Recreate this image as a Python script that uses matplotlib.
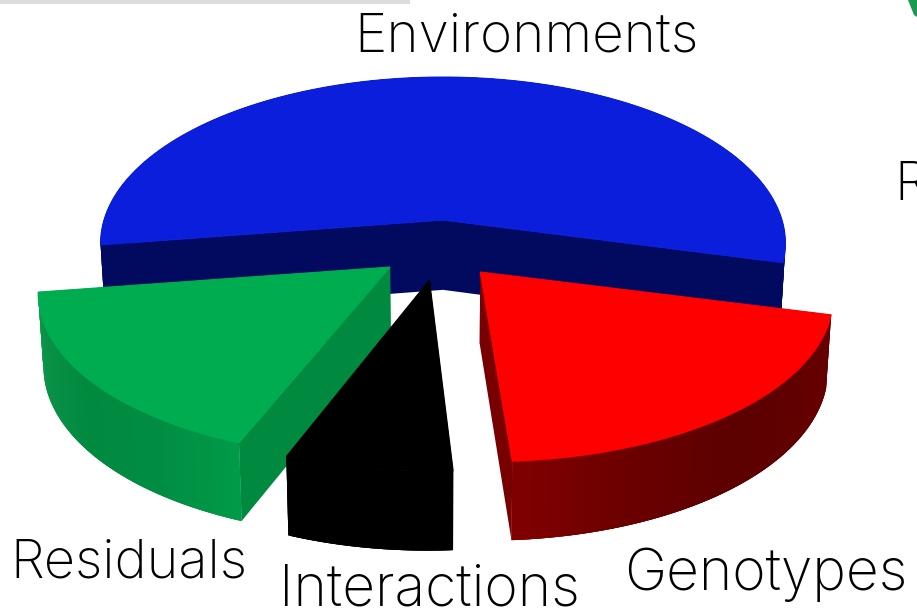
import numpy as np
import matplotlib
matplotlib.use("Agg")
import matplotlib.pyplot as plt
from matplotlib.patches import Polygon, Rectangle

# Share of variance per source, in percent
sources = ["Environments", "Genotypes", "Interactions", "Residuals"]
shares = [56.45, 19.9, 6.9, 16.75]

# Slice appearance and layout, in the same order as the sources
top_colors = ["#0A1EDC", "#FF0000", "#000000", "#00AC50"]
cut_colors = ["#020A60", "#780000", "#000000", "#008A40"]
wall_stops = [["#020A60", "#020A60"],
              ["#660000", "#620000", "#5C0000", "#6A0000", "#800000"],
              ["#000000", "#000000"],
              ["#009A48", "#008C42", "#008A40", "#089046", "#0A9A48"]]
explode = [(0.0, 0.0), (0.105, 0.305), (-0.038, 0.35), (-0.15, 0.277)]
radius_x = [1.0, 0.985, 0.96, 0.985]
radius_z = [1.0, 0.92, 0.915, 0.93]
draw_order = [0, 3, 1, 2]
start_angle = 171.4
label_pos = [(354, 51), (624, 590), (279, 605), (10, 577)]
label_size = [39.5, 41, 41, 39]

# Camera: pie lies in a plane seen in perspective, angles run clockwise on screen
CX, APEX_Y = 443.0, 220.0
S0, H, D, T, CONV = 339.0, 3.407, 7.08, 0.206, 0.013
Y_HORIZON = APEX_Y - S0 * H
N_STRIPS = 120


def project(x, z, level):
    s = S0 / (1.0 - z / D)
    rise = S0 * T * (s / S0) ** 0.65
    return CX + s * x * (1.0 - CONV * level), Y_HORIZON + s * H + rise * level


def hex_ramp(stops, n):
    rgb = np.array([matplotlib.colors.to_rgb(c) for c in stops])
    u = np.linspace(0, len(stops) - 1, n)
    return [tuple(np.interp(v, range(len(stops)), rgb[:, i]) for i in range(3)) for v in u]


fig = plt.figure(figsize=(9.17, 6.09), dpi=100)
ax = fig.add_axes([0, 0, 1, 1])
ax.set_xlim(0, 917)
ax.set_ylim(609, 0)
ax.axis("off")

spans = np.array(shares) / sum(shares) * 360.0
starts = start_angle + np.concatenate([[0], np.cumsum(spans)[:-1]])

for i in draw_order:
    a0 = np.radians(starts[i])
    a1 = np.radians(starts[i] + spans[i])
    ox, oz = explode[i]
    th = np.linspace(a0, a1, N_STRIPS + 1)
    rim_x = ox + radius_x[i] * np.cos(th)
    rim_z = oz + radius_z[i] * np.sin(th)

    faces = []
    # Flat faces on both cut edges
    for xe, ze in ((rim_x[0], rim_z[0]), (rim_x[-1], rim_z[-1])):
        quad = [project(ox, oz, 0), project(xe, ze, 0), project(xe, ze, 1), project(ox, oz, 1)]
        faces.append(((oz + ze) / 2, quad, cut_colors[i]))
    # Rim wall in shaded strips; each strip overlaps its neighbours so no seams show
    ramp = hex_ramp(wall_stops[i], N_STRIPS)
    for k in range(N_STRIPS):
        idx = np.arange(max(k - 1, 0), min(k + 3, N_STRIPS + 1))
        upper = [project(rim_x[j], rim_z[j], 0) for j in idx]
        lower = [project(rim_x[j], rim_z[j], 1) for j in idx[::-1]]
        faces.append((rim_z[k], upper + lower, ramp[k]))
    for _, quad, col in sorted(faces, key=lambda f: f[0]):
        ax.add_patch(Polygon(quad, closed=True, facecolor=col, edgecolor="none"))

    outline = [project(ox, oz, 0)] + [project(a, b, 0) for a, b in zip(rim_x, rim_z)]
    ax.add_patch(Polygon(outline, closed=True, facecolor=top_colors[i],
                         edgecolor=top_colors[i], linewidth=0.8))

# Slice names
font = dict(family="Inter", weight="light", color="#000000", ha="left", va="baseline")
for name, (tx, ty), size in zip(sources, label_pos, label_size):
    ax.text(tx, ty, name, fontsize=size, **font)

# Neighbouring slide content cut off by the frame
ax.text(894, 200, "R", fontsize=39, clip_on=True, **font)
ax.add_patch(Rectangle((0, 0), 410, 4, facecolor="#DCDCDC", edgecolor="none"))
ax.add_patch(Polygon([(908, 0), (917, 0), (917, 17), (914, 15)], closed=True,
                     facecolor="#1A9A50", edgecolor="none"))

fig.savefig("out.png", dpi=100, facecolor="white")
